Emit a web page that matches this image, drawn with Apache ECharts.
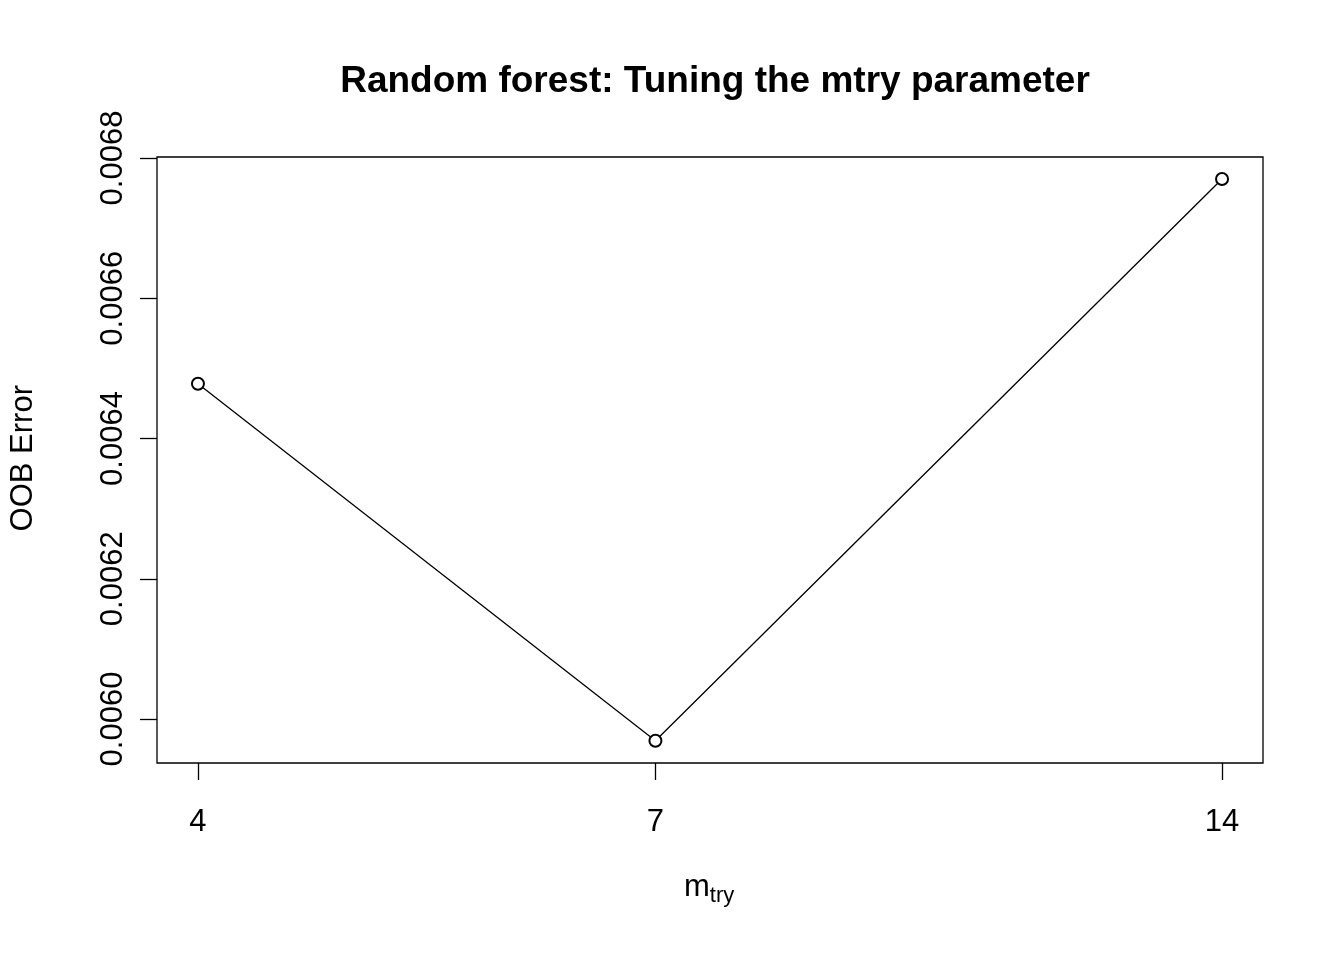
<!DOCTYPE html>
<html>
<head>
<meta charset="utf-8" />
<script src="https://cdn.jsdelivr.net/npm/echarts@6/dist/echarts.min.js"></script>
</head>
<body style="margin:0;background:#fff">
<div id="chart" style="width:1344px;height:960px;"></div>
<script>
// mtry values and out-of-bag error
var mtry = [4, 7, 14];
var oobError = [0.006478, 0.005969, 0.00677];
var yTicks = [0.0060, 0.0062, 0.0064, 0.0066, 0.0068];

// x is on a log scale in the original plot
var lnTicks = mtry.map(function (m) { return Math.log(m); });
var points = mtry.map(function (m, i) { return [Math.log(m), oobError[i]]; });
var xr = lnTicks[2] - lnTicks[0];

var chart = echarts.init(document.getElementById('chart'));
chart.setOption({
  animation: false,
  backgroundColor: '#fff',
  textStyle: { fontFamily: 'Liberation Sans, Arial, sans-serif', color: '#000' },
  title: {
    text: 'Random forest: Tuning the mtry parameter',
    left: 710, top: 58, textAlign: 'center',
    textStyle: { fontSize: 37, fontWeight: 'bold', color: '#000' }
  },
  graphic: [{
    type: 'text', left: 8, top: 385, rotation: Math.PI / 2,
    style: { text: 'OOB Error', fontSize: 31, fill: '#000', fontFamily: 'Liberation Sans, Arial, sans-serif' }
  }, {
    type: 'text', left: 684, top: 872,
    style: {
      text: '{m|m}{s|try}', fill: '#000',
      rich: {
        m: { fontSize: 31, fontFamily: 'Liberation Sans, Arial, sans-serif' },
        s: { fontSize: 22, padding: [16, 0, 0, 0], fontFamily: 'Liberation Sans, Arial, sans-serif' }
      }
    }
  }],
  grid: { left: 157, top: 157, width: 1106, height: 606, show: true, borderColor: '#000', borderWidth: 1.3 },
  xAxis: {
    type: 'value',
    min: lnTicks[0] - xr * 0.04, max: lnTicks[2] + xr * 0.04,
    splitLine: { show: false },
    axisLine: { show: false },
    axisTick: { show: true, length: 17, inside: false, customValues: lnTicks, lineStyle: { color: '#000', width: 1.3 } },
    axisLabel: {
      customValues: lnTicks, margin: 44, fontSize: 31, color: '#000',
      formatter: function (v) { return String(Math.round(Math.exp(v))); }
    }
  },
  yAxis: {
    type: 'value',
    min: 0.0060 - 44 / 701250, max: 0.0068 + 1 / 701250,
    splitLine: { show: false },
    axisLine: { show: false },
    axisTick: { show: true, length: 17, customValues: yTicks, lineStyle: { color: '#000', width: 1.3 } },
    axisLabel: {
      customValues: yTicks, rotate: 90, margin: 28, fontSize: 31, color: '#000',
      formatter: function (v) { return v.toFixed(4); }
    }
  },
  series: [{
    type: 'line',
    data: points,
    symbol: 'emptyCircle', symbolSize: 12,
    lineStyle: { color: '#000', width: 1.3 },
    itemStyle: { color: '#000', borderColor: '#000', borderWidth: 1.5 }
  }]
});
</script>
</body>
</html>
